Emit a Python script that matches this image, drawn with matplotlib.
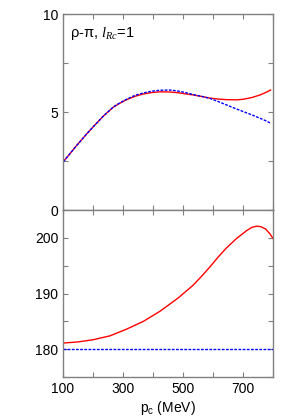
import numpy as np
import matplotlib.pyplot as plt
from matplotlib.ticker import MultipleLocator

plt.rcParams['font.family'] = ['Liberation Sans', 'DejaVu Sans']
plt.rcParams['mathtext.fontset'] = 'custom'
plt.rcParams['mathtext.rm'] = 'Liberation Sans'
plt.rcParams['mathtext.it'] = 'Liberation Serif:italic'

# top panel data
pc_top = [101, 146, 180, 201, 235, 268, 290, 312, 340, 368, 395, 423, 457, 479,
          506, 534, 562, 590, 618, 645, 679, 701, 730, 757, 775, 792]
red_top = [2.46, 3.30, 3.90, 4.25, 4.80, 5.25, 5.45, 5.63, 5.80, 5.92, 5.99, 6.03, 6.02, 5.99,
           5.93, 5.87, 5.79, 5.71, 5.66, 5.63, 5.62, 5.65, 5.74, 5.87, 5.99, 6.12]
blue_top = [2.46, 3.30, 3.90, 4.25, 4.80, 5.26, 5.47, 5.65, 5.85, 5.97, 6.06, 6.11, 6.12, 6.08,
            6.00, 5.89, 5.80, 5.69, 5.53, 5.36, 5.15, 5.02, 4.85, 4.68, 4.56, 4.43]

# bottom panel data
pc_bot = [101, 150, 201, 257, 312, 368, 423, 484, 534, 562, 590, 618, 645, 679,
          712, 730, 746, 760, 775, 790, 800]
red_bot = [181.1, 181.3, 181.7, 182.4, 183.6, 185.0, 186.8, 189.2, 191.5, 193.1, 194.8,
           196.6, 198.2, 199.9, 201.3, 201.9, 202.1, 202.0, 201.6, 200.7, 199.9]
blue_x = [100, 800]
blue_bot = [180.0, 180.0]

fig = plt.figure(figsize=(2.94, 4.2), dpi=100)
ax1 = fig.add_axes([63/294, 0.5, 210/294, 196/420])
ax2 = fig.add_axes([63/294, 43/420, 210/294, 167/420])

frame = '#808080'
for ax in (ax1, ax2):
    for s in ax.spines.values():
        s.set_color(frame)
        s.set_linewidth(1.0)
    ax.tick_params(which='both', direction='in', top=True, right=True,
                   color=frame, labelsize=10, length=3.5, width=0.8)
    ax.set_xlim(100, 800)
    ax.xaxis.set_major_locator(MultipleLocator(200))
    ax.xaxis.set_minor_locator(MultipleLocator(100))

ax1.plot(pc_top, red_top, color='red', lw=1.0)
ax1.plot(pc_top, blue_top, color='blue', lw=1.0, ls=(0, (2, 1)))
ax1.set_ylim(0, 10)
ax1.yaxis.set_major_locator(MultipleLocator(5))
ax1.yaxis.set_minor_locator(MultipleLocator(2.5))
ax1.tick_params(labelbottom=False)
ax1.text(0.035, 0.9, r'ρ-π, $\mathit{l}_{\mathit{Rc}}$=$\mathit{1}$', transform=ax1.transAxes,
         fontsize=10.5, va='center', ha='left')

ax2.plot(pc_bot, red_bot, color='red', lw=1.0)
ax2.plot(blue_x, blue_bot, color='blue', lw=1.0, ls=(0, (2, 1)))
ax2.set_ylim(175, 205)
ax2.yaxis.set_minor_locator(MultipleLocator(5))
ax2.set_yticks([180, 190, 200])
ax2.set_xticks([100, 300, 500, 700])
ax2.set_xlabel(r'p$_\mathrm{c}$ (MeV)', fontsize=10, labelpad=2)

fig.savefig('out.png', dpi=100)
